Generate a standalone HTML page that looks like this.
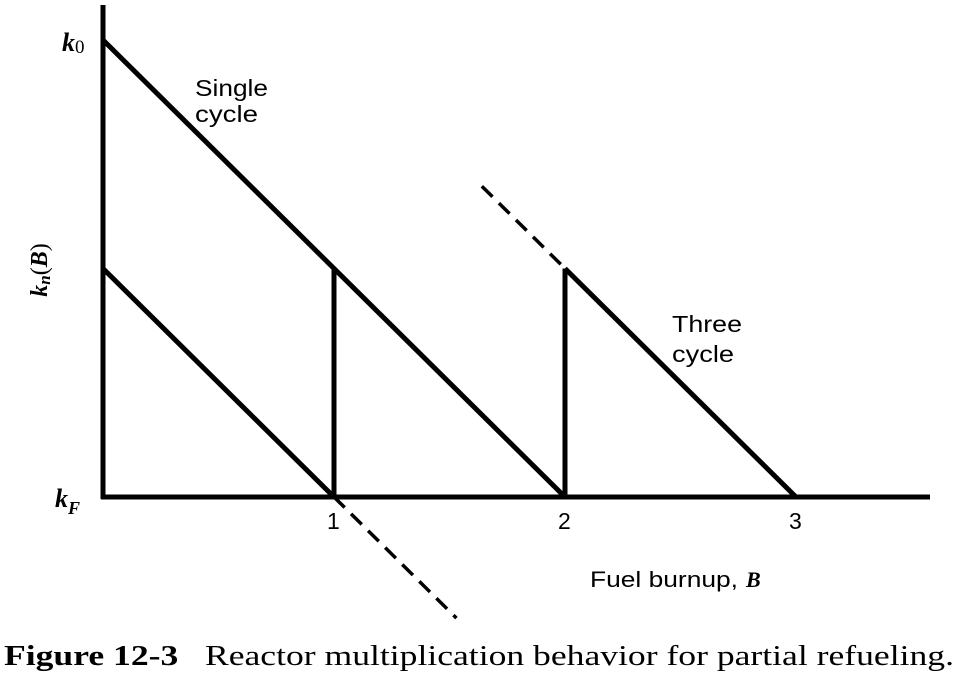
<!DOCTYPE html>
<html><head><meta charset="utf-8"><style>
html,body{margin:0;padding:0;background:#fff;}
svg{display:block;}
</style></head><body>
<svg id="chart" width="970" height="686" viewBox="0 0 970 686" xmlns="http://www.w3.org/2000/svg">
<g id="plot"></g>
<text x="62" y="51" font-family="Liberation Serif, serif" font-style="italic" font-weight="bold" font-size="26">k<tspan font-size="19" dy="2" font-style="normal" font-weight="normal">0</tspan></text>
<text x="55" y="507" font-family="Liberation Serif, serif" font-style="italic" font-weight="bold" font-size="26">k<tspan font-size="18" dy="7">F</tspan></text>
<text transform="translate(47,270) rotate(-90)" text-anchor="middle" font-family="Liberation Serif, serif" font-style="italic" font-weight="bold" font-size="24">k<tspan font-size="17" dy="3">n</tspan><tspan dy="-3" font-style="normal" font-weight="normal">(</tspan>B<tspan font-style="normal" font-weight="normal">)</tspan></text>
<text x="195" y="96" font-family="Liberation Sans, sans-serif" font-size="23" textLength="73" lengthAdjust="spacingAndGlyphs">Single</text>
<text x="195" y="122" font-family="Liberation Sans, sans-serif" font-size="23" textLength="63" lengthAdjust="spacingAndGlyphs">cycle</text>
<text x="672" y="332" font-family="Liberation Sans, sans-serif" font-size="23" textLength="70" lengthAdjust="spacingAndGlyphs">Three</text>
<text x="672" y="362" font-family="Liberation Sans, sans-serif" font-size="23" textLength="62" lengthAdjust="spacingAndGlyphs">cycle</text>
<text x="590" y="587" font-family="Liberation Sans, sans-serif" font-size="22" textLength="148" lengthAdjust="spacingAndGlyphs">Fuel burnup,</text>
<text x="746" y="587" font-family="Liberation Serif, serif" font-style="italic" font-weight="bold" font-size="22">B</text>
<text x="4" y="665" xml:space="preserve" font-family="Liberation Serif, serif" font-size="28" textLength="950" lengthAdjust="spacingAndGlyphs"><tspan font-weight="bold">Figure 12-3</tspan>   Reactor multiplication behavior for partial refueling.</text>
</svg>
<script>
const xTicks=[1,2,3];
const singleLine=[[0,2],[2,0]];
const lowerLine=[[0,1],[1,0]];
const lowerDash=[[1,0],[1.53,-0.53]];
const verticals=[[1,1,0],[2,1,0]];
const threeLine=[[2,1],[3,0]];
const threeDash=[[1.64,1.36],[2,1]];
const X=b=>103+b*231;
const Y=k=>497-k*228.5;
const NS='http://www.w3.org/2000/svg';
const g=document.getElementById('plot');
function line(x1,y1,x2,y2,name,dash){
 const l=document.createElementNS(NS,'line');
 l.setAttribute('x1',x1);l.setAttribute('y1',y1);l.setAttribute('x2',x2);l.setAttribute('y2',y2);
 l.setAttribute('stroke','#000');l.setAttribute('stroke-width',dash?3.5:5);
 if(dash)l.setAttribute('stroke-dasharray','15 9');
 
 
 g.appendChild(l);
}
line(103,5,103,499,'y-axis');
line(101,497,930,497,'x-axis');
const seg=(p,n,d)=>line(X(p[0][0]),Y(p[0][1]),X(p[1][0]),Y(p[1][1]),n,d);
seg(singleLine,'single-cycle-line');
seg(lowerLine,'lower-cycle-line');
seg(lowerDash,'lower-extension-dashed',true);
seg(threeLine,'three-cycle-line');
seg(threeDash,'three-cycle-extension-dashed',true);
verticals.forEach((v,i)=>line(X(v[0]),Y(v[1]),X(v[0]),Y(v[2]),'refuel-jump-'+(i+1)));
xTicks.forEach(t=>{
 const tx=document.createElementNS(NS,'text');
 tx.setAttribute('x',X(t)-7);tx.setAttribute('y',529);
 tx.setAttribute('font-family','Liberation Sans, sans-serif');tx.setAttribute('font-size','23');
 tx.textContent=t;
 
 
 g.appendChild(tx);
});
</script>
</body></html>
